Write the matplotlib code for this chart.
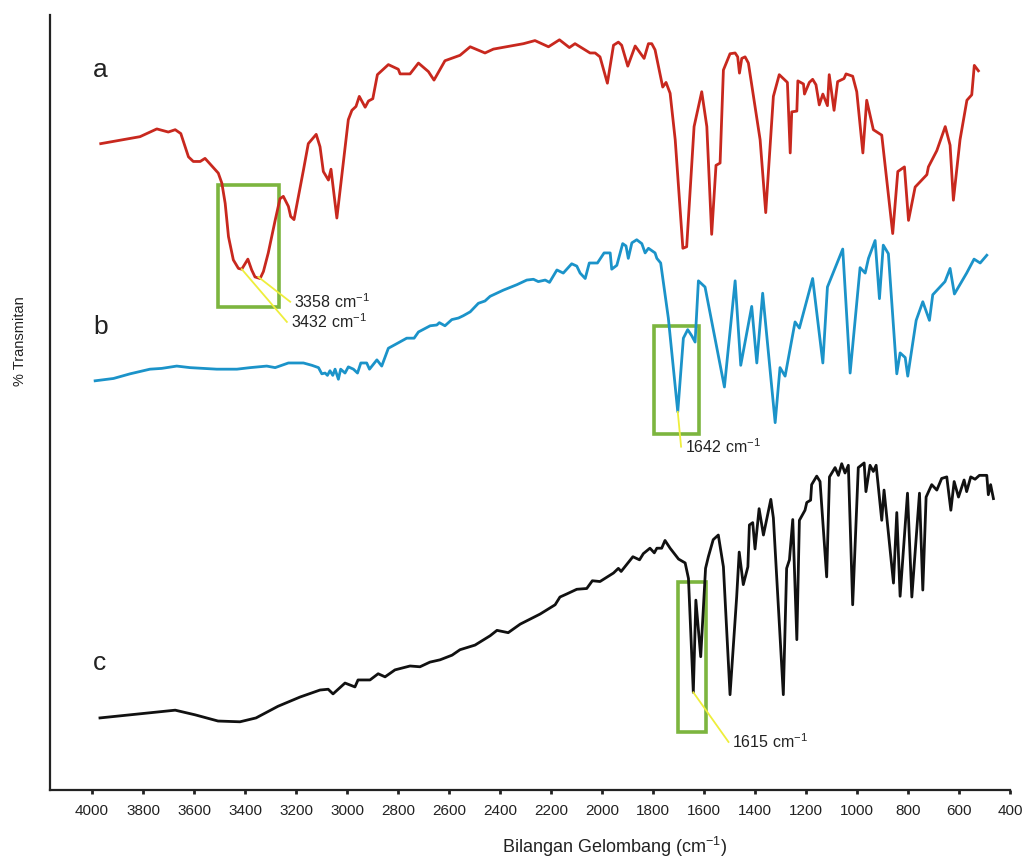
import matplotlib
matplotlib.use("Agg")
import matplotlib.pyplot as plt
from matplotlib.patches import Rectangle

plt.rcParams["font.family"] = ["Liberation Sans", "DejaVu Sans"]
plt.rcParams["mathtext.fontset"] = "custom"
plt.rcParams["mathtext.rm"] = "Liberation Sans"
plt.rcParams["mathtext.it"] = "Liberation Sans:italic"

# spectrum a (red)
wn_a = [3966, 3812, 3746, 3701, 3674, 3652, 3622, 3603, 3576, 3557, 3505, 3491, 3478, 3465,
        3446, 3426, 3413, 3389, 3374, 3361, 3341, 3328, 3309, 3282, 3263, 3250, 3230, 3221,
        3208, 3171, 3152, 3121, 3106, 3093, 3073, 3063, 3040, 2995, 2981, 2965, 2952, 2929,
        2916, 2899, 2881, 2838, 2799, 2792, 2753, 2720, 2681, 2659, 2616, 2557, 2517, 2459,
        2426, 2308, 2263, 2210, 2167, 2128, 2106, 2047, 2027, 2008, 1979, 1955, 1936, 1923,
        1899, 1870, 1835, 1818, 1805, 1792, 1762, 1749, 1733, 1713, 1683, 1668, 1639, 1609,
        1589, 1570, 1553, 1537, 1524, 1498, 1478, 1468, 1461, 1452, 1439, 1426, 1380, 1358,
        1328, 1305, 1273, 1262, 1256, 1236, 1232, 1210, 1206, 1187, 1174, 1161, 1148, 1134,
        1116, 1109, 1090, 1076, 1051, 1043, 1017, 1001, 977, 962, 936, 903, 860, 840, 814,
        798, 772, 726, 720, 687, 654, 635, 622, 596, 569, 550, 540, 524]
t_a = [83.4, 84.3, 85.3, 84.9, 85.2, 84.7, 81.7, 81.1, 81.1, 81.5, 79.6, 78.3, 75.7, 71.4,
       68.4, 67.3, 67.2, 68.5, 67.1, 66.2, 66.0, 66.9, 69.3, 73.5, 76.3, 76.6, 75.3, 74.0,
       73.6, 80.0, 83.4, 84.6, 83.0, 79.8, 78.7, 80.1, 73.8, 86.5, 87.7, 88.2, 89.5, 88.1,
       88.9, 89.2, 92.3, 93.6, 93.0, 92.4, 92.4, 93.8, 92.7, 91.6, 94.1, 94.8, 95.9, 95.1,
       95.6, 96.3, 96.7, 95.9, 96.8, 95.8, 96.3, 95.1, 95.1, 94.6, 91.2, 96.1, 96.5, 96.1,
       93.4, 96.0, 94.4, 96.3, 96.3, 95.5, 90.7, 91.3, 89.9, 83.9, 69.9, 70.1, 85.6, 90.1,
       85.6, 71.7, 80.6, 80.9, 92.9, 95.0, 95.1, 94.6, 92.5, 94.4, 94.6, 93.8, 83.9, 74.5,
       89.5, 92.3, 91.3, 82.2, 87.5, 87.6, 91.5, 91.1, 89.8, 91.3, 91.7, 91.0, 88.4, 89.8,
       88.3, 92.3, 87.7, 91.4, 91.8, 92.4, 92.1, 90.1, 82.2, 89.0, 85.2, 84.5, 71.8, 79.8, 80.4,
       73.5, 77.8, 79.4, 80.4, 82.5, 85.6, 83.2, 76.1, 83.9, 89.0, 89.7, 93.5, 92.8]

# spectrum b (blue)
wn_b = [3988, 3916, 3851, 3773, 3727, 3668, 3616, 3511, 3432, 3380, 3315, 3282, 3230, 3171,
        3138, 3112, 3099, 3086, 3077, 3067, 3056, 3047, 3034, 3025, 3008, 2995, 2975, 2959,
        2946, 2923, 2912, 2883, 2864, 2838, 2799, 2766, 2737, 2720, 2674, 2648, 2638, 2616,
        2589, 2563, 2544, 2517, 2485, 2459, 2439, 2387, 2334, 2295, 2269, 2250, 2223, 2206,
        2177, 2152, 2119, 2099, 2086, 2066, 2050, 2018, 1992, 1968, 1962, 1942, 1919, 1906,
        1897, 1883, 1864, 1844, 1831, 1818, 1792, 1785, 1770, 1740, 1703, 1681, 1664, 1648,
        1635, 1622, 1596, 1520, 1478, 1456, 1413, 1393, 1370, 1321, 1302, 1282, 1243, 1226,
        1174, 1134, 1116, 1056, 1027, 988, 968, 955, 929, 912, 897, 877, 844, 831, 811, 801,
        768, 742, 716, 703, 655, 635, 618, 570, 541, 517, 491]
t_b = [52.8, 53.1, 53.7, 54.3, 54.4, 54.7, 54.5, 54.3, 54.3, 54.5, 54.7, 54.5, 55.1, 55.1,
       54.8, 54.5, 53.7, 53.8, 53.5, 54.1, 53.5, 54.3, 53.0, 54.3, 53.8, 54.6, 54.3, 53.8,
       55.1, 55.1, 54.3, 55.5, 54.7, 57.0, 57.7, 58.3, 58.3, 59.1, 59.9, 60.0, 60.3, 59.9,
       60.7, 60.9, 61.2, 61.7, 62.8, 63.1, 63.7, 64.5, 65.2, 65.8, 65.9, 65.6, 65.8, 65.5,
       67.1, 66.7, 67.9, 67.6, 66.7, 66.0, 68.0, 68.0, 69.3, 69.3, 67.2, 67.7, 70.5, 70.2,
       68.6, 70.6, 71.0, 70.5, 69.3, 69.9, 69.3, 68.6, 68.0, 60.9, 48.8, 58.3, 59.4, 58.6,
       57.8, 65.7, 64.9, 52.0, 65.7, 54.8, 62.4, 55.1, 64.1, 47.4, 54.5, 53.4, 60.4, 59.6,
       66.0, 55.1, 64.9, 69.8, 53.8, 67.4, 66.7, 68.6, 70.9, 63.4, 70.3, 69.2, 53.7, 56.4,
       55.8, 53.4, 60.6, 63.0, 60.6, 63.9, 65.6, 67.3, 64.0, 66.7, 68.5, 68.0, 69.0]

# spectrum c (black)
wn_c = [3969, 3851, 3674, 3596, 3506, 3420, 3357, 3271, 3184, 3106, 3074, 3055, 3008, 2969,
        2957, 2910, 2878, 2851, 2812, 2753, 2714, 2675, 2635, 2588, 2557, 2498, 2439, 2412,
        2368, 2321, 2243, 2184, 2165, 2138, 2099, 2060, 2038, 2008, 1955, 1936, 1925, 1879,
        1853, 1838, 1812, 1795, 1785, 1766, 1753, 1733, 1700, 1674, 1661, 1642, 1632, 1613,
        1594, 1583, 1564, 1544, 1524, 1498, 1472, 1462, 1446, 1428, 1422, 1409, 1400, 1384,
        1367, 1338, 1328, 1289, 1276, 1265, 1252, 1236, 1226, 1204, 1197, 1182, 1178, 1158,
        1145, 1119, 1108, 1086, 1073, 1060, 1047, 1034, 1017, 995, 972, 965, 949, 936, 925,
        903, 894, 857, 844, 831, 802, 785, 755, 742, 729, 707, 687, 668, 648, 632, 619, 602,
        580, 570, 554, 537, 520, 491, 485, 476, 465]
t_c = [9.3, 9.7, 10.3, 9.7, 8.9, 8.8, 9.3, 10.8, 12.0, 12.9, 13.0, 12.4, 13.8, 13.3,
       14.2, 14.2, 15.0, 14.6, 15.5, 16.0, 15.9, 16.5, 16.8, 17.4, 18.1, 18.7, 19.9, 20.6,
       20.3, 21.4, 22.7, 23.9, 24.9, 25.3, 25.9, 26.0, 27.0, 26.9, 28.0, 28.6, 28.2, 30.1,
       29.7, 30.5, 31.2, 30.6, 31.2, 31.2, 32.2, 31.2, 29.8, 29.3, 27.3, 12.6, 24.5, 17.2,
       28.6, 30.1, 32.3, 32.9, 28.8, 12.3, 24.9, 30.7, 26.5, 28.8, 34.2, 34.5, 31.1, 36.3,
       32.9, 37.5, 35.1, 12.3, 28.6, 29.7, 34.9, 19.4, 34.8, 36.1, 37.1, 37.4, 39.4, 40.5,
       39.8, 27.5, 40.4, 41.6, 40.6, 42.1, 40.9, 41.9, 23.9, 41.6, 42.2, 38.5, 41.9, 41.1, 41.9,
       34.8, 38.7, 26.7, 35.8, 25.0, 38.3, 24.9, 38.3, 25.8, 37.8, 39.4, 38.7, 40.2, 40.4, 36.1,
       39.8, 37.8, 40.0, 38.5, 40.4, 40.1, 40.6, 40.6, 38.1, 39.4, 37.6]

labels = ["a", "b", "c"]
label_y = [92.9, 59.7, 16.4]

# highlighted regions (wavenumber from, to, T bottom, T top)
boxes = [(3505, 3265, 62.3, 78.1), (1795, 1619, 46.0, 59.9), (1703, 1594, 7.5, 26.9)]
# peak labels: text, peak point, line end
peaks = [("3432 cm$^{-1}$", (3413, 67.2), (3236, 60.4)),
         ("3358 cm$^{-1}$", (3348, 66.2), (3223, 63.0)),
         ("1642 cm$^{-1}$", (1703, 48.8), (1690, 44.3)),
         ("1615 cm$^{-1}$", (1642, 12.6), (1504, 6.2))]

fig = plt.figure(figsize=(10.22, 8.59), dpi=100)
ax = fig.add_axes([50 / 1022, 69 / 859, 960 / 1022, 775 / 859])

ax.plot(wn_a, t_a, color="#c8281e", lw=2.0, zorder=3)
ax.plot(wn_b, t_b, color="#1b93c9", lw=2.0, zorder=3)
ax.plot(wn_c, t_c, color="#111111", lw=2.0, zorder=3)

for x0, x1, y0, y1 in boxes:
    ax.add_patch(Rectangle((x1, y0), x0 - x1, y1 - y0, fill=False,
                           edgecolor="#7cb53f", lw=2.6, zorder=2))

for txt, (px, py), (ex, ey) in peaks:
    ax.plot([px, ex], [py, ey], color="#eeee3c", lw=1.3, zorder=4)
    ax.text(ex - 15, ey, txt, fontsize=11.5, ha="left", va="center", color="#222222")

for lab, y in zip(labels, label_y):
    ax.text(3995, y, lab, fontsize=19, ha="left", va="center", color="#222222")

ax.set_xlim(4165, 400)
ax.set_ylim(0, 100)
ax.set_xticks(range(4000, 399, -200))
ax.set_yticks([])
ax.tick_params(axis="x", direction="out", length=3, width=2, pad=7,
               labelsize=11, colors="#222222")
for s in ["top", "right"]:
    ax.spines[s].set_visible(False)
for s in ["left", "bottom"]:
    ax.spines[s].set_linewidth(1.6)
    ax.spines[s].set_color("#222222")

fig.text(615 / 1022, 1 - 847 / 859, "Bilangan Gelombang (cm$^{-1}$)", fontsize=13,
         ha="center", va="center", color="#222222")
fig.text(20 / 1022, 1 - 341 / 859, "% Transmitan", fontsize=10.5, rotation=90,
         ha="center", va="center", color="#222222")

fig.savefig("out.png", dpi=100)
